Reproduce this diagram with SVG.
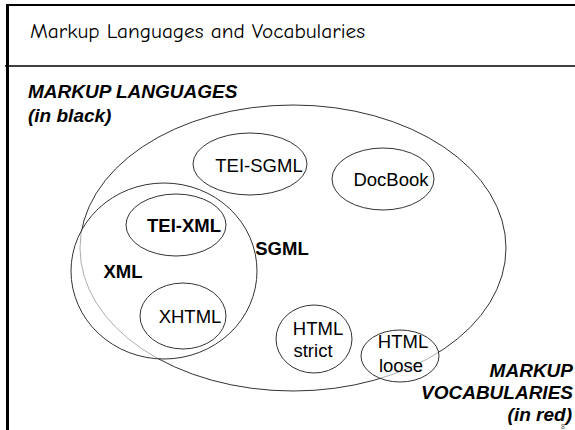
<svg xmlns="http://www.w3.org/2000/svg" width="575" height="430" viewBox="0 0 575 430">
<style>
.frame{stroke:#000;fill:none}
.set{stroke:#333;stroke-width:1;fill:#fff;fill-opacity:0.6}
.outer{stroke:#333;stroke-width:1;fill:none}
.lbl{font-family:"Liberation Sans",Arial,sans-serif;font-size:18.5px;fill:#000;text-anchor:middle}
.bold{font-weight:bold}
.note{font-family:"Liberation Sans",Arial,sans-serif;font-size:19px;font-weight:bold;font-style:italic;fill:#000}
.title{font-family:"Comic Sans MS","Comic Neue","DejaVu Sans",sans-serif;font-size:20px;fill:#000}
</style>
<rect width="575" height="430" fill="#fff"/>
<g id="frame">
<line class="frame" x1="7" y1="5" x2="575" y2="5" stroke-width="2"/>
<line class="frame" x1="7.5" y1="4" x2="7.5" y2="430" stroke-width="3"/>
<line class="frame" x1="5" y1="66" x2="575" y2="66" stroke-width="1.5"/>
<text class="title" x="30" y="38" textLength="335" lengthAdjust="spacingAndGlyphs">Markup Languages and Vocabularies</text>
</g>
<g id="legend">
<text class="note" x="28" y="98">MARKUP LANGUAGES</text>
<text class="note" x="28" y="122">(in black)</text>
<text class="note" x="573" y="377" text-anchor="end">MARKUP</text>
<text class="note" x="573" y="399" text-anchor="end">VOCABULARIES</text>
<text class="note" x="572" y="421" text-anchor="end">(in red)</text>
<text x="563" y="429" font-family="Liberation Sans,Arial,sans-serif" font-size="7" fill="#555" text-anchor="middle">8</text>
</g>
<g id="sgml">
<ellipse class="outer" cx="293" cy="248" rx="213" ry="143"/>
<text class="lbl bold" x="282" y="255">SGML</text>
</g>
<g id="xml">
<ellipse class="set" cx="164" cy="271" rx="93" ry="88"/>
<text class="lbl bold" x="123" y="278">XML</text>
</g>
<g id="tei-xml">
<ellipse class="set" cx="176" cy="225" rx="50" ry="31"/>
<text class="lbl bold" x="184" y="232">TEI-XML</text>
</g>
<g id="xhtml">
<ellipse class="set" cx="183" cy="316" rx="43" ry="33"/>
<text class="lbl" x="190" y="323">XHTML</text>
</g>
<g id="tei-sgml">
<ellipse class="set" cx="250" cy="164" rx="57" ry="31"/>
<text class="lbl" x="259" y="172">TEI-SGML</text>
</g>
<g id="docbook">
<ellipse class="set" cx="383" cy="179" rx="51" ry="31"/>
<text class="lbl" x="391" y="186">DocBook</text>
</g>
<g id="html-strict">
<ellipse class="set" cx="314" cy="339" rx="38" ry="34"/>
<text class="lbl" x="318" y="335">HTML</text>
<text class="lbl" x="313" y="357">strict</text>
</g>
<g id="html-loose">
<ellipse class="set" cx="400" cy="356" rx="39" ry="26"/>
<text class="lbl" x="403" y="348">HTML</text>
<text class="lbl" x="401" y="372">loose</text>
</g>
<g id="connectors"></g>
</svg>
